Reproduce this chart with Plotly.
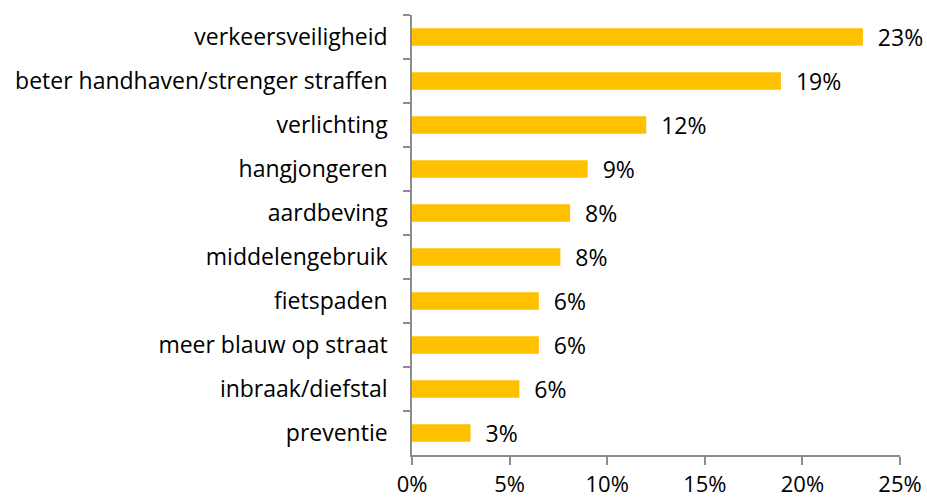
import plotly.graph_objects as go

categories = ["verkeersveiligheid", "beter handhaven/strenger straffen", "verlichting",
              "hangjongeren", "aardbeving", "middelengebruik", "fietspaden",
              "meer blauw op straat", "inbraak/diefstal", "preventie"]
values = [0.231, 0.189, 0.120, 0.090, 0.081, 0.076, 0.065, 0.065, 0.055, 0.030]
x_ticks = [0, 0.05, 0.10, 0.15, 0.20, 0.25]

FONT = "Open Sans"
FS = 23
fig = go.Figure(go.Bar(
    y=categories, x=values, orientation="h",
    marker=dict(color="#FFC000", line=dict(width=0)),
    width=0.4,
    text=[f"  {round(v*100):.0f}%" for v in values],
    textposition="outside", cliponaxis=False, constraintext="none",
    textfont=dict(family=FONT, size=FS, color="#000000"),
))
fig.update_layout(
    width=927, height=499,
    margin=dict(l=412, r=27, t=15, b=44, autoexpand=False),
    paper_bgcolor="white", plot_bgcolor="white",
    showlegend=False,
    font=dict(family=FONT, size=FS, color="#000000"),
)
fig.update_xaxes(range=[0, 0.25], tickvals=x_ticks, tickformat=".0%",
                 automargin=False,
                 showgrid=False, zeroline=False,
                 showline=True, linecolor="#8C8C8C", linewidth=1.5,
                 ticks="outside", ticklen=8, tickcolor="#8C8C8C", tickwidth=1.5,
                 ticklabelstandoff=1,
                 tickfont=dict(family=FONT, size=22, color="#000000"))
fig.update_yaxes(autorange="reversed", categoryorder="array", categoryarray=categories,
                 automargin=False,
                 showgrid=False, zeroline=False,
                 showline=True, linecolor="#8C8C8C", linewidth=1.5,
                 ticks="outside", ticklen=7, tickcolor="#8C8C8C", tickwidth=1.5,
                 tickson="boundaries", ticklabelstandoff=18,
                 tickfont=dict(family=FONT, size=FS, color="#000000"))
fig.write_html("out.html")
